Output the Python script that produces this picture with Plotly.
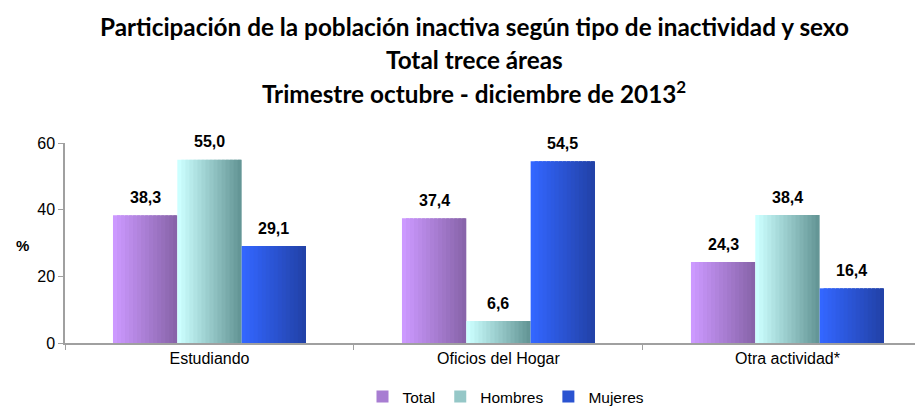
import plotly.graph_objects as go

categories = ["Estudiando", "Oficios del Hogar", "Otra actividad*"]
series_names = ["Total", "Hombres", "Mujeres"]
total = [38.3, 37.4, 24.3]
hombres = [55.0, 6.6, 38.4]
mujeres = [29.1, 54.5, 16.4]
y_ticks = [0, 20, 40, 60]

# left -> right colour of each bar's horizontal gradient
gradients = {
    "Total": ((204, 153, 255), (136, 100, 170)),
    "Hombres": ((204, 255, 255), (100, 150, 150)),
    "Mujeres": ((51, 102, 255), (34, 66, 168)),
}

GROUP = 0.668
BW = GROUP / 3
SLICES = 16

# the page body adds an 8px margin, so the figure is made smaller and positions shifted
PAGE = 8
W, H = 923 - PAGE, 407 - PAGE
L, T, B = 65 - PAGE, 143 - PAGE, H - (343 - PAGE)
PW, PH = W - L, H - T - B

FONT = "Liberation Sans, Arial, sans-serif"


def mix(c0, c1, t):
    return "rgb({},{},{})".format(*[round(a + (b - a) * t) for a, b in zip(c0, c1)])


def px_x(x):
    return (x - PAGE - L) / PW


def px_y(y):
    return (H - B - (y - PAGE)) / PH


fig = go.Figure()
values_by_series = {"Total": total, "Hombres": hombres, "Mujeres": mujeres}

for i, name in enumerate(series_names):
    vals = values_by_series[name]
    c0, c1 = gradients[name]
    left = -GROUP / 2 + i * BW
    sw = BW / SLICES
    for j in range(SLICES):
        last = j == SLICES - 1
        fig.add_trace(go.Bar(
            x=categories, y=vals, name=name,
            width=sw if last else sw * 1.8, offset=left + j * sw,
            marker=dict(color=mix(c0, c1, j / (SLICES - 1)), line=dict(width=0)),
            legendgroup=name, showlegend=(j == SLICES // 2),
            hoverinfo="skip" if j != SLICES // 2 else None,
        ))
    for k, v in enumerate(vals):
        fig.add_annotation(
            x=k + left + BW / 2, y=v, xref="x", yref="y",
            text="<b>{}</b>".format(f"{v:.1f}".replace(".", ",")),
            showarrow=False, yshift=18,
            font=dict(family=FONT, size=16, color="black"),
        )

titles = [
    ("Participación de la población inactiva según tipo de inactividad y sexo", 26),
    ("Total trece áreas", 59),
    ("Trimestre octubre - diciembre de 2013<sup>2</sup>", 92),
]
for text, py in titles:
    fig.add_annotation(
        x=px_x(474), xref="paper", y=px_y(py), yref="paper",
        text=f"<b>{text}</b>", showarrow=False,
        xanchor="center", yanchor="middle",
        font=dict(family="Lato, Carlito, sans-serif", size=24.3, color="black"),
    )

fig.add_annotation(
    x=px_x(14), xref="paper", y=px_y(245), yref="paper",
    text="<b>%</b>", showarrow=False,
    font=dict(family=FONT, size=15, color="black"),
)

fig.update_layout(
    template="none",
    width=W, height=H,
    margin=dict(l=L, r=0, t=T, b=B, autoexpand=False),
    barmode="overlay",
    plot_bgcolor="white", paper_bgcolor="white",
    font=dict(family=FONT, size=15, color="black"),
    showlegend=True,
    legend=dict(
        orientation="h", x=px_x(506), xanchor="center",
        y=px_y(397), yanchor="middle",
        font=dict(family=FONT, size=15.5), itemwidth=30,
        traceorder="normal",
    ),
)
fig.update_xaxes(
    range=[-0.5, 2.469], showgrid=False, showline=True,
    linecolor="#a0a0a0", linewidth=1.5,
    ticks="outside", tickson="boundaries", ticklen=5, tickcolor="#a0a0a0",
    tickfont=dict(family=FONT, size=16),
)
fig.update_yaxes(
    range=[0, 60], tickvals=y_ticks, showgrid=False, zeroline=False,
    showline=True, linecolor="#a0a0a0", linewidth=1.5,
    ticks="outside", ticklen=5, tickcolor="#a0a0a0",
    tickfont=dict(family=FONT, size=16),
)

fig.write_html("out.html")
